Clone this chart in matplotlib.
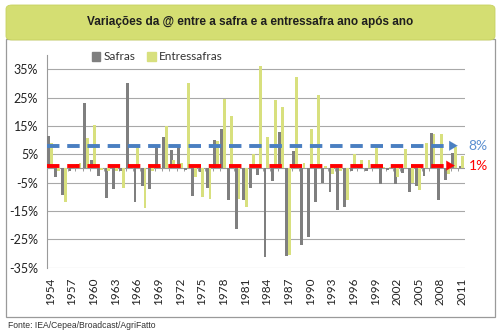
import numpy as np
import matplotlib
matplotlib.use("Agg")
import matplotlib.pyplot as plt
from matplotlib.patches import FancyBboxPatch, Rectangle, Patch

# variação (%) da arroba, ano a ano
anos = list(range(1954, 2012))
safras = [11.5, -3, -9.5, -1, 1.5, 23, 3, -2.5, -10.4, -7.1,
          -1, 30, -11.8, -6.2, -7.1, 7.8, 11, 6.5, 7.5, -0.5,
          -9.6, -1.2, -7, 10, 14, -11.2, -21.2, -11, -6.9, -2.4,
          -31.2, -4.6, 13, -31, 6.2, -27.1, -24.2, -12, -5, -8.3,
          -14.8, -13.6, -1, 1, -1, 1, -5.4, -0.5, -5.6, -1.5,
          -8.3, -6.2, -2.5, 12.5, -11, -4, 5.5, 1]
entressafras = [9, -1, -12, 1, 2, 10.7, 15.2, -0.5, -1, -1,
                -7, 0.5, 7.4, -14, -1, 1, 14.8, 3, 2, 30,
                -3, -10, -10.8, 9.5, 24.5, 18.6, -10.6, -13.6, 5.2, 36,
                11, 24.3, 21.7, -30.5, 32.3, 2, 14, 26, 1, -2,
                -1, -11.2, 5, 3, 3, 8.2, 0.5, 0.5, -3, 7,
                -5, -7.7, 9, 12, 12.3, -1.8, 7.6, 4.5]
linha_azul = 8
linha_vermelha = 1

titulo = "Variações da @ entre a safra e a entressafra ano após ano"
fonte = "Fonte: IEA/Cepea/Broadcast/AgriFatto"

cinza = "#7f7f7f"
amarelo = "#d8e07e"
azul = "#4a7fc1"
vermelho = "#ff0000"

narrow = ["Liberation Sans", "DejaVu Sans"]
plt.rcParams["font.family"] = ["Lato", "DejaVu Sans"]

fig = plt.figure(figsize=(5, 3.34), dpi=100)
W, H = 500, 334

# moldura branca e faixa do título (atrás dos eixos)
fig.patches.append(Rectangle((6 / W, 1 - 317 / H), 489 / W, 278 / H,
                             transform=fig.transFigure, facecolor="white",
                             edgecolor="#9a9a9a", lw=0.9, zorder=-5))
fig.patches.append(FancyBboxPatch((6 / W, 1 - 40 / H), 489 / W, 35 / H,
                                  boxstyle="round,pad=0,rounding_size=0.012",
                                  transform=fig.transFigure, facecolor="#d4de72",
                                  edgecolor="#c8d260", lw=0.6, zorder=-5))
fig.text(0.5, 1 - 22 / H, titulo, ha="center", va="center", fontsize=8.5,
         fontweight="bold", color="#1e1e1e", family=narrow)
fig.text(8 / W, 1 - 325 / H, fonte, ha="left", va="center", fontsize=6.2,
         color="#333333", family=narrow)

ax = fig.add_axes([46.5 / W, 1 - 267.7 / H, 419 / W, 212.7 / H])
ax.set_facecolor("none")

x = np.arange(len(anos))
w = 0.4
ax.bar(x - 0.25, safras, width=w, color=cinza, zorder=3)
ax.bar(x + 0.14, entressafras, width=w, color=amarelo, zorder=3)

ax.set_xlim(-0.5, len(anos) - 0.5)
ax.set_ylim(-35, 40)
yt = np.arange(-35, 36, 10)
ax.set_yticks(yt)
ax.set_yticklabels([f"{v}%" for v in yt])
ax.yaxis.grid(True, color="#a8a8a8", lw=0.8, zorder=0)
ax.tick_params(axis="y", length=0, pad=6, labelsize=9, labelcolor="#222222")

ax.set_xticks(x[::3])
ax.set_xticklabels([str(a) for a in anos[::3]], rotation=90)
ax.tick_params(axis="x", length=0, pad=7, labelsize=8.5, labelcolor="#222222")

for s in ["top", "right", "bottom"]:
    ax.spines[s].set_visible(False)
ax.spines["left"].set_color("#9a9a9a")

# eixo de categorias no zero
ax.axhline(0, color="#9a9a9a", lw=0.8, zorder=2)
ax.vlines(np.arange(len(anos) + 1) - 0.5, -1, 0, color="#9a9a9a", lw=0.7, zorder=2)

# setas tracejadas
for nivel, cor, fim in [(linha_azul, azul, 56.8), (linha_vermelha, vermelho, 56.4)]:
    ax.plot([-0.5, fim - 1.2], [nivel, nivel], color=cor, lw=2.8,
            ls=(0, (3.2, 2.0)), zorder=5, solid_capstyle="butt")
    ax.annotate("", xy=(fim, nivel), xytext=(fim - 1.3, nivel),
                arrowprops=dict(arrowstyle="-|>,head_length=0.6,head_width=0.35",
                                color=cor, lw=0.1), zorder=6, annotation_clip=False)
    ax.text(57.9, nivel, f"{nivel}%", color=cor if cor != azul else "#5a8fd0",
            fontsize=10, ha="left", va="center", clip_on=False)

handles = [Patch(color=cinza, label="Safras"), Patch(color=amarelo, label="Entressafras")]
fig.legend(handles=handles, loc="center left", bbox_to_anchor=(86 / W, 1 - 57 / H),
           ncol=2, frameon=False, fontsize=8.5, handlelength=0.7, handleheight=0.7,
           handletextpad=0.3, columnspacing=1.0, borderpad=0, labelcolor="#333333")

fig.savefig("out.png", dpi=100)
